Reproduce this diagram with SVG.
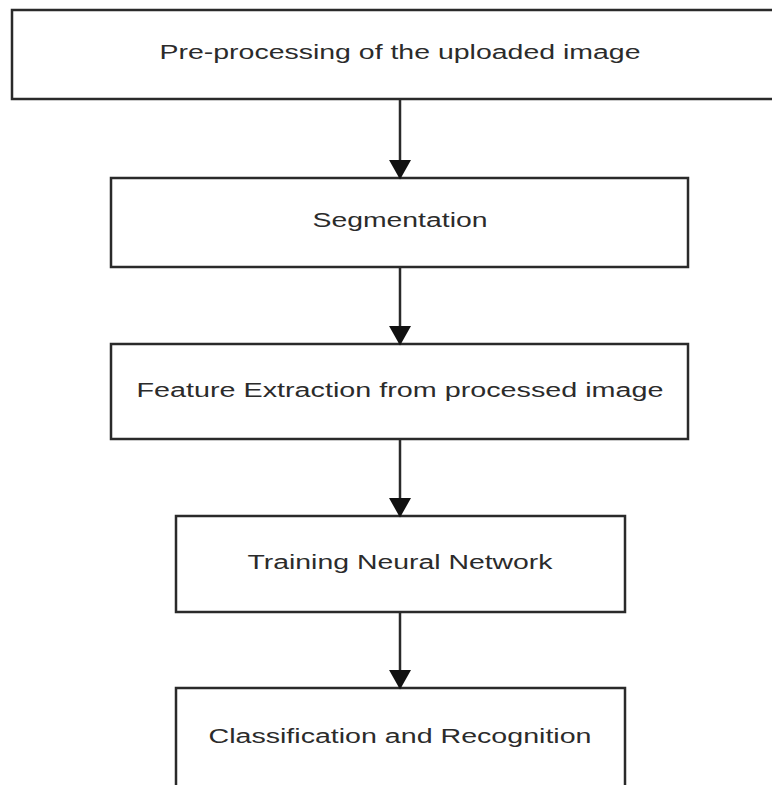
<svg xmlns="http://www.w3.org/2000/svg" width="772" height="785" viewBox="0 0 772 785">
<defs>
<style>
.box{fill:#fff;stroke:#2a2a2a;stroke-width:2.5}
.lbl{font-family:"Liberation Sans",Arial,sans-serif;font-size:20px;fill:#2b2b2b;text-anchor:middle}
.conn{stroke:#2a2a2a;stroke-width:2.5;fill:none}
</style>
<marker id="arr" markerWidth="8" markerHeight="9" refX="7" refY="4.5" orient="auto" markerUnits="strokeWidth" viewBox="0 0 8 9">
<path d="M0,0 L8,4.5 L0,9 z" fill="#111"/>
</marker>
</defs>
<rect width="772" height="785" fill="#fff"/>
<g id="node1"><rect class="box" x="12" y="10" width="770" height="89"/><text class="lbl" x="400" y="59" textLength="481" lengthAdjust="spacingAndGlyphs">Pre-processing of the uploaded image</text></g>
<g id="node2"><rect class="box" x="111" y="178" width="577" height="89"/><text class="lbl" x="400" y="227" textLength="175" lengthAdjust="spacingAndGlyphs">Segmentation</text></g>
<g id="node3"><rect class="box" x="111" y="344" width="577" height="95"/><text class="lbl" x="400" y="397" textLength="527" lengthAdjust="spacingAndGlyphs">Feature Extraction from processed image</text></g>
<g id="node4"><rect class="box" x="176" y="516" width="449" height="96"/><text class="lbl" x="400" y="569" textLength="305" lengthAdjust="spacingAndGlyphs">Training Neural Network</text></g>
<g id="node5"><rect class="box" x="176" y="688" width="449" height="110"/><text class="lbl" x="400" y="743" textLength="383" lengthAdjust="spacingAndGlyphs">Classification and Recognition</text></g>
<g id="connectors">
<line class="conn" x1="400" y1="99" x2="400" y2="177" marker-end="url(#arr)"/>
<line class="conn" x1="400" y1="267" x2="400" y2="343" marker-end="url(#arr)"/>
<line class="conn" x1="400" y1="439" x2="400" y2="515" marker-end="url(#arr)"/>
<line class="conn" x1="400" y1="612" x2="400" y2="687" marker-end="url(#arr)"/>
</g>
</svg>
